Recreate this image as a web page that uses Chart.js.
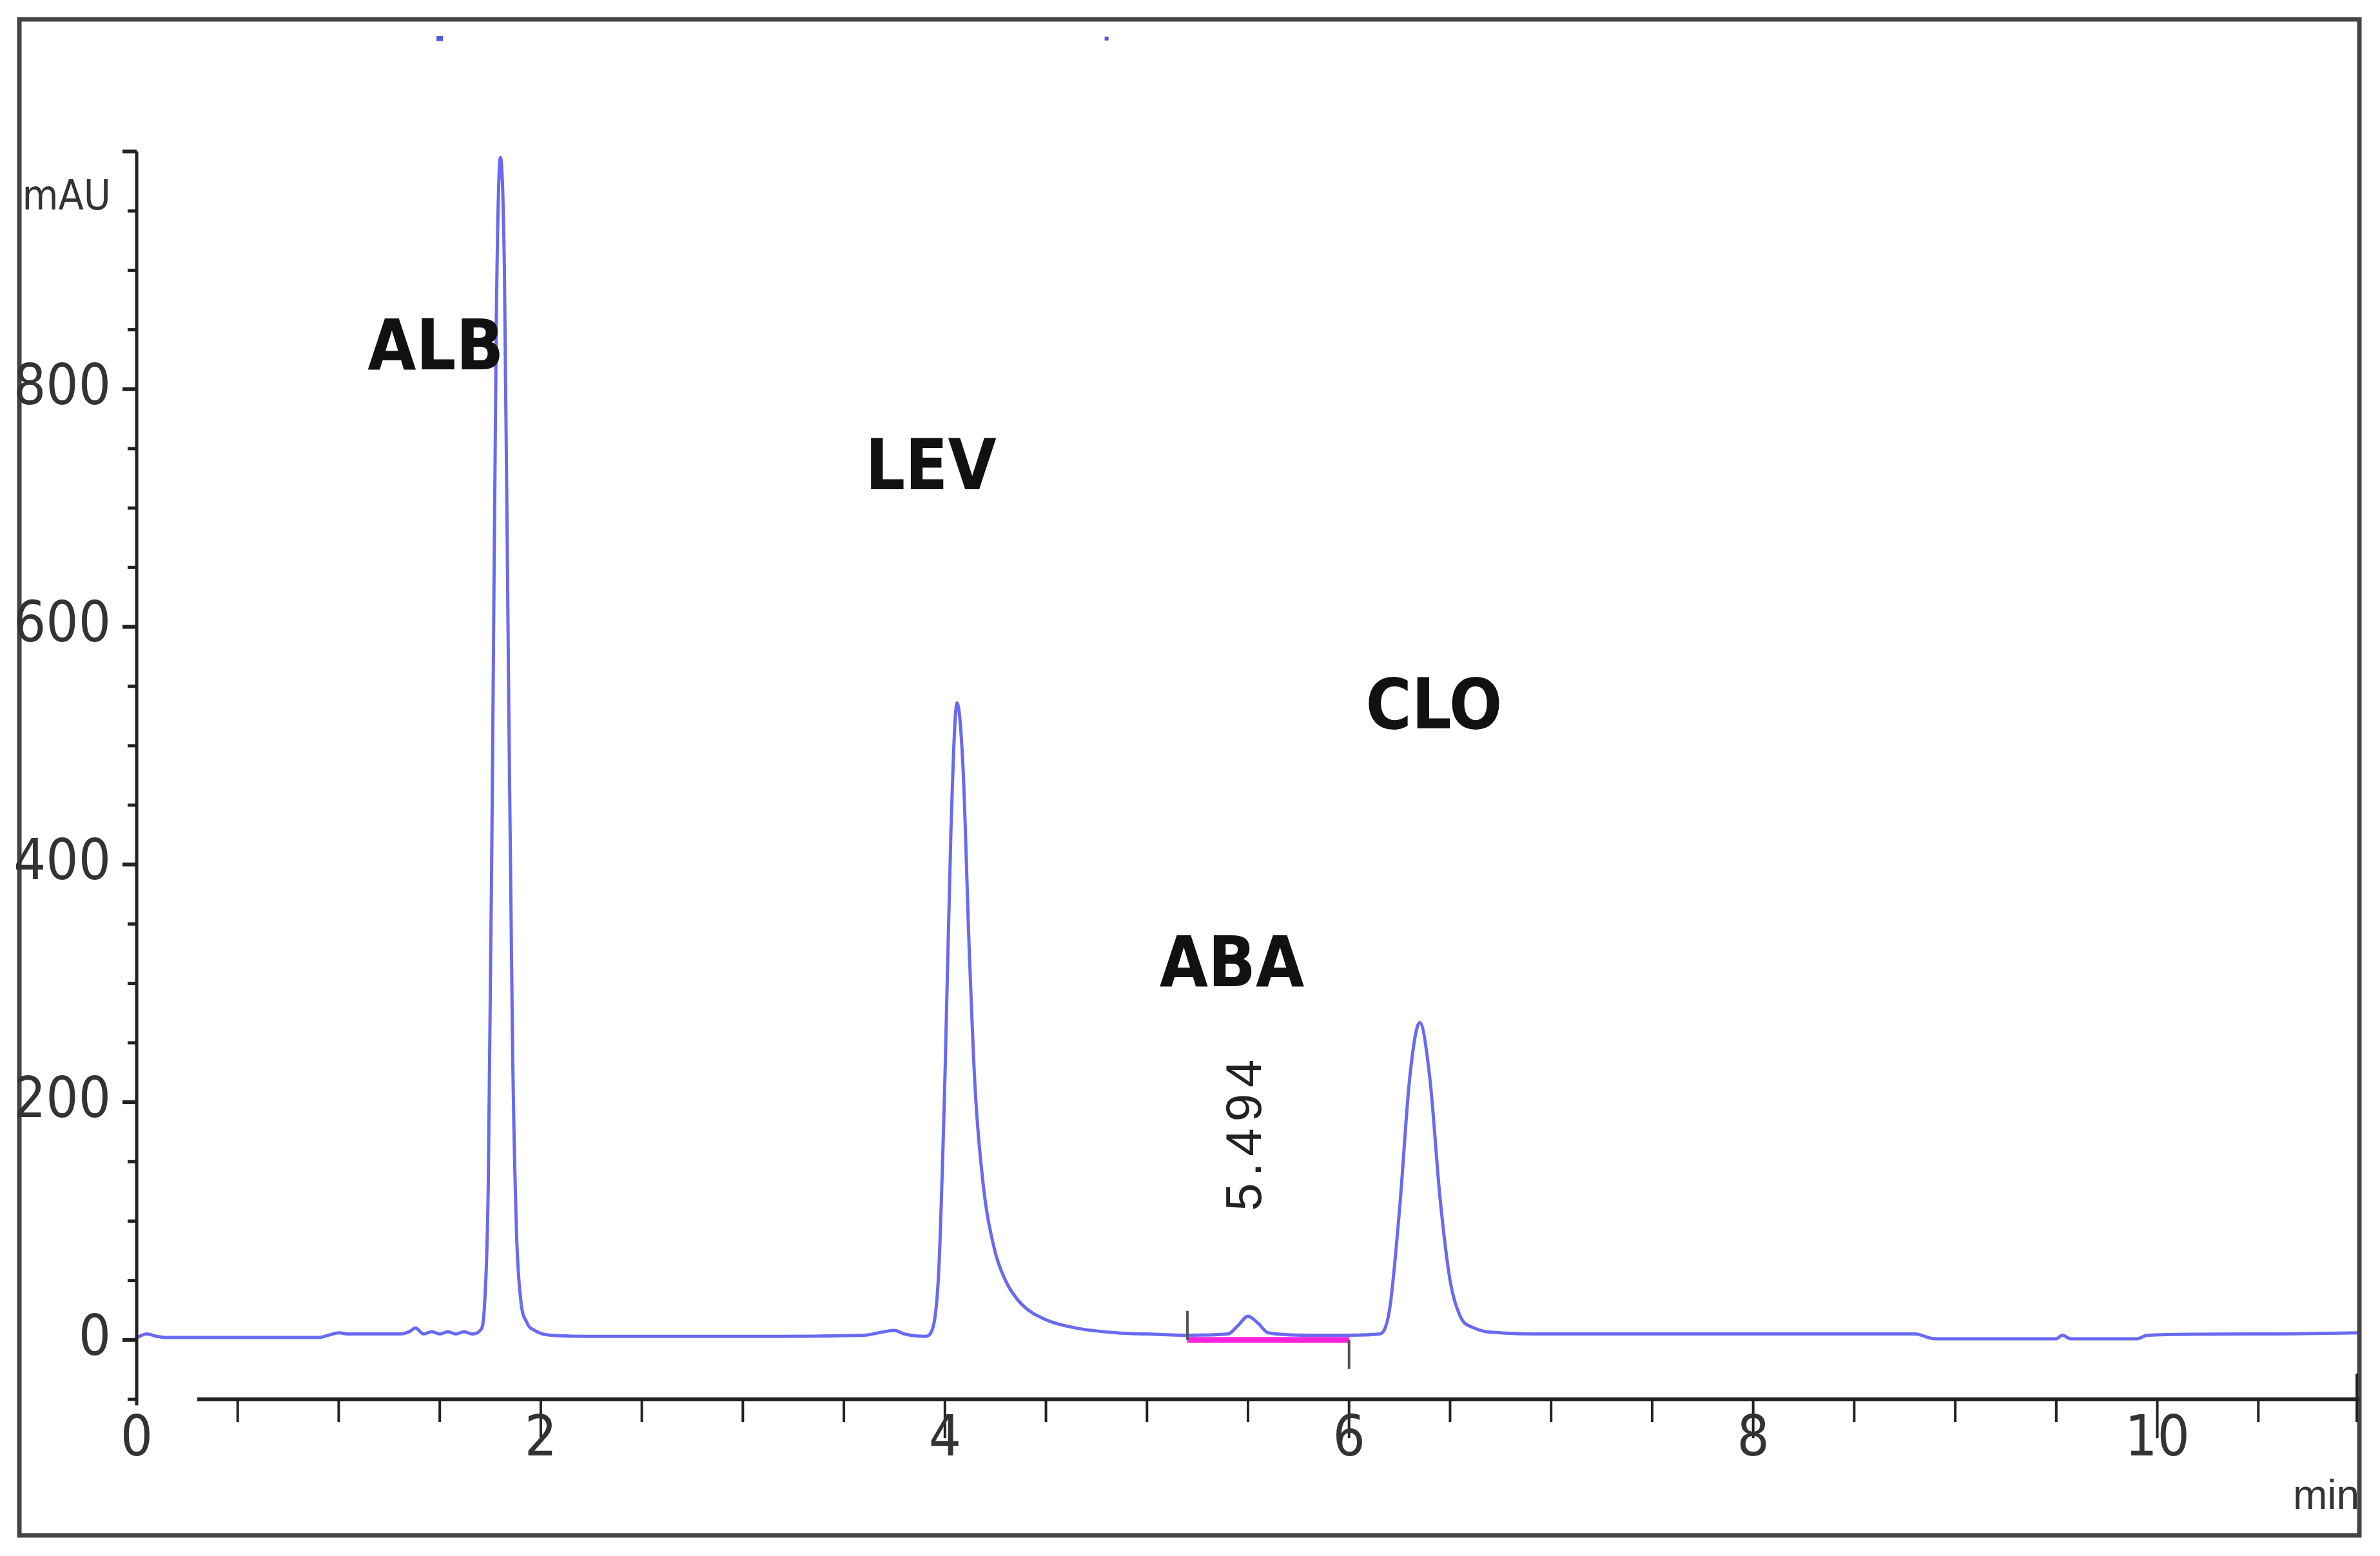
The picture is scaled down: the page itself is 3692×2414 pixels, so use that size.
<!DOCTYPE html>
<html><head><meta charset="utf-8">
<script src="https://cdn.jsdelivr.net/npm/chart.js@4/dist/chart.umd.min.js"></script>
<style>html,body{margin:0;padding:0;background:#fff}#w{width:3692px;height:2414px;position:relative}</style>
</head><body><div id="w"><canvas id="c" width="3692" height="2414" style="width:3692px;height:2414px"></canvas></div>
<script>
const times=[0,0.05,0.1,0.15,0.2,0.9,0.95,1.0,1.05,1.3,1.35,1.38,1.42,1.46,1.5,1.54,1.58,1.62,1.66,1.70,1.72,1.74,1.76,1.78,1.80,1.82,1.84,1.86,1.88,1.90,1.93,1.97,2.05,2.3,3.0,3.6,3.7,3.75,3.8,3.9,3.94,3.97,4.00,4.03,4.06,4.09,4.12,4.15,4.19,4.24,4.30,4.38,4.50,4.65,4.85,5.0,5.2,5.40,5.45,5.50,5.55,5.60,5.8,6.0,6.15,6.20,6.25,6.30,6.35,6.40,6.45,6.50,6.55,6.62,6.75,7.0,8.0,8.8,8.9,9.5,9.53,9.57,9.9,9.95,10.5,11.0];
const signal=[2,5,3,2,2,2,4,6,5,5,7,10,5,7,5,7,5,7,5,8,25,130,460,860,995,900,560,250,90,35,15,8,4,3,3,4,7,8,5,3,10,60,220,430,536,480,330,210,130,80,50,30,17,10,6,5,4,5,12,20,14,6,4,4,5,25,110,220,267,220,120,50,20,10,6,5,5,5,1,1,4,1,1,4,5,6];
const baseT=[5.2,6.0];
const baseV=[0,0];
const yTicks=[0,200,400,600,800];
const xTicks=[0,2,4,6,8,10];
const peakNames=['ALB','LEV','ABA','CLO'];
const peakLabelT=[1.48,3.93,5.42,6.42];
const peakLabelV=[832,731,313,530];
const rtLabel='5.494';
const rtT=5.494, rtV=175;

const pts=times.map((t,i)=>({x:t,y:signal[i]}));
const deco={id:'deco',
 afterDraw(ch){
  const c=ch.ctx,x=ch.scales.x,y=ch.scales.y;
  c.save();
  c.strokeStyle='#444';c.lineWidth=7;c.strokeRect(30,30,3630,2352);
  const x0=x.getPixelForValue(0);
  c.strokeStyle='#222';c.lineWidth=5;
  c.beginPath();c.moveTo(x0,y.getPixelForValue(1000));c.lineTo(x0,y.getPixelForValue(-55));c.stroke();
  for(let v=-50;v<=1000;v+=50){
    const major=v%200===0&&v>=0;
    c.lineWidth=major?6:5;
    c.beginPath();c.moveTo(x0-(major||v===1000?22:14),y.getPixelForValue(v));c.lineTo(x0,y.getPixelForValue(v));c.stroke();
  }
  c.fillStyle='#333';c.textAlign='right';c.textBaseline='middle';
  c.font='88px "Liberation Sans Narrow", "DejaVu Sans Condensed", sans-serif';
  yTicks.forEach(v=>c.fillText(String(v),x0-40,y.getPixelForValue(v)));
  c.font='64px "Liberation Sans Narrow", "DejaVu Sans Condensed", sans-serif';
  c.fillText('mAU',x0-40,y.getPixelForValue(960));
  const ya=y.getPixelForValue(-50);
  c.lineWidth=6;c.strokeStyle='#222';
  c.beginPath();c.moveTo(x.getPixelForValue(0.3),ya);c.lineTo(x.getPixelForValue(11),ya);c.stroke();
  c.lineWidth=4;
  for(let t=0.5;t<=10.51;t+=0.5){
    c.beginPath();c.moveTo(x.getPixelForValue(t),ya);c.lineTo(x.getPixelForValue(t),ya+(t%2===0?60:35));c.stroke();
  }
  c.beginPath();c.moveTo(x.getPixelForValue(11)-4,ya-40);c.lineTo(x.getPixelForValue(11)-4,ya+35);c.stroke();
  c.textAlign='center';c.textBaseline='top';
  c.font='88px "Liberation Sans Narrow", "DejaVu Sans Condensed", sans-serif';
  xTicks.forEach(t=>c.fillText(String(t),x.getPixelForValue(t),ya+20));
  c.font='64px "Liberation Sans Narrow", sans-serif';c.textAlign='right';
  c.fillText('min',x.getPixelForValue(11),ya+120);
  c.strokeStyle='#555';c.lineWidth=4;
  const yb=y.getPixelForValue(0);
  c.beginPath();c.moveTo(x.getPixelForValue(5.2),yb-45);c.lineTo(x.getPixelForValue(5.2),yb);c.stroke();
  c.beginPath();c.moveTo(x.getPixelForValue(6.0),yb);c.lineTo(x.getPixelForValue(6.0),yb+45);c.stroke();
  c.fillStyle='#111';c.textAlign='center';c.textBaseline='middle';
  c.font='bold 108px "Liberation Sans Narrow", "DejaVu Sans Condensed", sans-serif';
  peakNames.forEach((n,i)=>c.fillText(n,x.getPixelForValue(peakLabelT[i]),y.getPixelForValue(peakLabelV[i])));
  c.translate(x.getPixelForValue(rtT),y.getPixelForValue(rtV));c.rotate(-Math.PI/2);
  c.font='78px "Liberation Sans", sans-serif';c.fillStyle='#222';c.textAlign='center';
  if('letterSpacing' in c)c.letterSpacing='10px';
  c.fillText(rtLabel,0,0);
  c.restore();
  c.save();c.fillStyle='#5555dd';
  c.fillRect(x.getPixelForValue(1.5)-5,y.getPixelForValue(1095)-4,10,8);
  c.fillRect(x.getPixelForValue(4.8)-3,y.getPixelForValue(1095)-3,6,6);
  c.restore();
 }};
new Chart(document.getElementById('c'),{
 type:'line',
 data:{datasets:[
  {data:baseT.map((t,i)=>({x:t,y:baseV[i]})),borderColor:'#ff22dd',borderWidth:9,pointRadius:0,order:2},
  {data:pts,borderColor:'#6a6af0',borderWidth:5,pointRadius:0,cubicInterpolationMode:'monotone',order:1}
 ]},
 options:{responsive:false,animation:false,devicePixelRatio:1,
  layout:{padding:{left:212,right:32,top:235,bottom:243}},
  plugins:{legend:{display:false},tooltip:{enabled:false}},
  scales:{x:{type:'linear',min:0,max:11,display:false},y:{min:-50,max:1000,display:false}}},
 plugins:[deco]
});
</script>
</body></html>
